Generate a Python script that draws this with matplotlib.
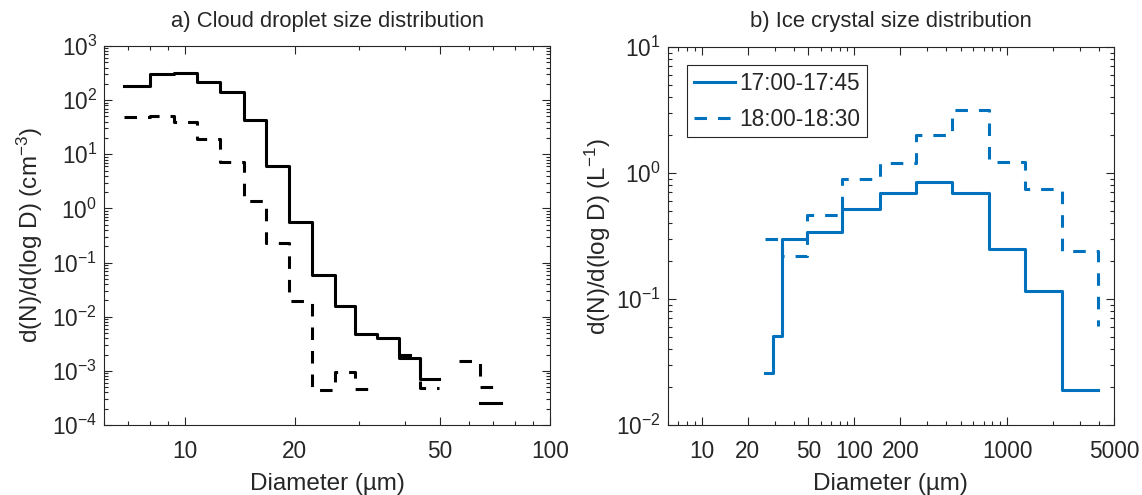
import matplotlib.pyplot as plt
import matplotlib.ticker as mticker
import numpy as np

plt.rcParams['font.family'] = ['Liberation Sans', 'DejaVu Sans']
plt.rcParams['mathtext.fontset'] = 'custom'
plt.rcParams['mathtext.rm'] = 'Liberation Sans'
plt.rcParams['mathtext.it'] = 'Liberation Sans:italic'
plt.rcParams['axes.unicode_minus'] = False
plt.rcParams['axes.edgecolor'] = '#262626'
plt.rcParams['xtick.color'] = '#262626'
plt.rcParams['ytick.color'] = '#262626'
plt.rcParams['text.color'] = '#262626'
plt.rcParams['axes.labelcolor'] = '#262626'

nan = np.nan

# cloud droplets: bin lower edges (um) and d(N)/d(log D) in cm^-3
d_drop = [6.8, 8.0, 9.3, 10.8, 12.5, 14.5, 16.7, 19.3, 22.3, 25.7, 29.3,
          33.6, 38.5, 44.0, 49.6, 56.4, 64.5, 73.3]
drop_a = [180, 300, 320, 218, 143, 43, 6.0, 0.57, 0.060, 0.016, 0.0048,
          0.0040, 0.0017, 0.00072, nan, nan, 0.00026, 0.00026]
drop_b = [49, 51, 39, 19.5, 7.2, 1.36, 0.228, 0.0198, 0.00045, 0.00097, 0.00046,
          nan, 0.00198, 0.00049, nan, 0.00149, 0.00051, 0.00051]

# ice crystals: bin lower edges (um) and d(N)/d(log D) in L^-1
d_ice = [25.8, 29.4, 33.6, 48.9, 83.5, 146, 254, 437, 760, 1309, 2286, 3945]
ice_a = [0.026, 0.051, 0.30, 0.34, 0.52, 0.69, 0.84, 0.69, 0.25, 0.116, 0.019, 0.019]
ice_b = [0.30, 0.30, 0.22, 0.46, 0.90, 1.19, 1.98, 3.13, 1.22, 0.74, 0.24, 0.061]

labels = ['17:00-17:45', '18:00-18:30']
blue = '#0072BD'
lw = 2.2
dash = (0, (4.1, 3.6))

fig = plt.figure(figsize=(11.42, 4.95), dpi=100)
ax1 = fig.add_axes([0.0911, 0.1414, 0.3905, 0.7657])
ax2 = fig.add_axes([0.5847, 0.1414, 0.3908, 0.7640])


def style(ax, xmaj):
    ax.set_xscale('log')
    ax.set_yscale('log')
    ax.xaxis.set_major_locator(mticker.FixedLocator(xmaj))
    ax.xaxis.set_major_formatter(mticker.FuncFormatter(lambda v, p: '%g' % v))
    ax.xaxis.set_minor_locator(mticker.LogLocator(base=10, subs=np.arange(2, 10), numticks=50))
    ax.xaxis.set_minor_formatter(mticker.NullFormatter())
    ax.yaxis.set_major_locator(mticker.LogLocator(base=10, numticks=20))
    ax.yaxis.set_minor_locator(mticker.LogLocator(base=10, subs=np.arange(2, 10), numticks=50))
    ax.yaxis.set_minor_formatter(mticker.NullFormatter())
    ax.tick_params(which='both', direction='in', top=True, right=True, labelsize=16.3, width=0.8)
    ax.tick_params(which='major', length=6)
    ax.tick_params(which='minor', length=3)
    ax.tick_params(axis='x', pad=11)
    ax.tick_params(axis='y', pad=5)
    for s in ax.spines.values():
        s.set_linewidth(0.8)
    ax.set_xlabel('Diameter (\u00b5m)', fontsize=17.5, labelpad=7)


ax1.step(d_drop, drop_a, where='post', color='k', lw=lw)
ax1.step(d_drop, drop_b, where='post', color='k', lw=lw, linestyle=dash)
style(ax1, [10, 20, 50, 100])
ax1.set_xlim(6, 100)
ax1.set_ylim(1e-4, 1e3)
ax1.set_ylabel('d(N)/d(log D) (cm$^{-3}$)', fontsize=17.5, labelpad=5)
ax1.set_title('a) Cloud droplet size distribution', fontsize=15.8, pad=14)

ax2.step(d_ice, ice_a, where='post', color=blue, lw=lw, label=labels[0])
ax2.step(d_ice, ice_b, where='post', color=blue, lw=lw, linestyle=dash, label=labels[1])
style(ax2, [10, 20, 50, 100, 200, 1000, 5000])
ax2.set_xlim(6, 5000)
ax2.set_ylim(1e-2, 1e1)
ax2.set_ylabel('d(N)/d(log D) (L$^{-1}$)', fontsize=17.5, labelpad=2)
ax2.set_title('b) Ice crystal size distribution', fontsize=15.8, pad=14)

leg = ax2.legend(loc='upper left', bbox_to_anchor=(0.044, 0.951), borderaxespad=0,
                 fontsize=16.3, handlelength=1.8, handletextpad=0.2, labelspacing=0.55,
                 borderpad=0.3, fancybox=False, framealpha=1)
leg.get_frame().set_edgecolor('#262626')
leg.get_frame().set_linewidth(0.8)

plt.savefig('out.png', dpi=100)
